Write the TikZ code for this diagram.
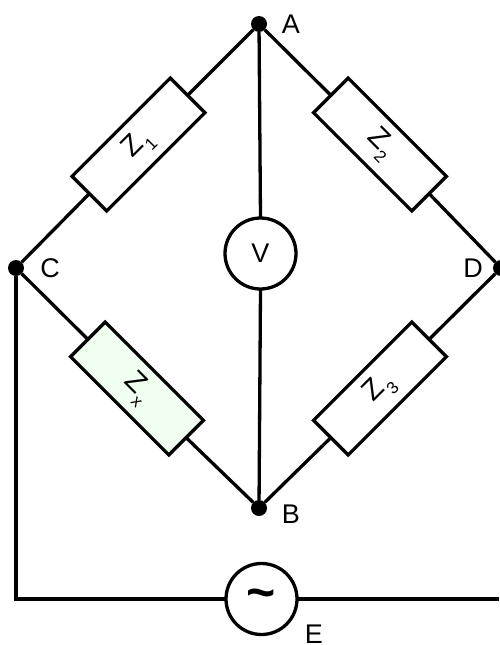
\documentclass[tikz,border=0pt]{standalone}
\usepackage{fontspec}
\setmainfont{Liberation Sans}
\usetikzlibrary{positioning}

\newcommand{\zlabel}[1]{\fontsize{29}{29}\selectfont Z\kern0.02em\raisebox{-0.32em}{\fontsize{17}{17}\selectfont #1}}

\tikzset{
  imped/.style={draw, line width=3.3pt, fill=white, minimum width=139pt, minimum height=49pt, inner sep=0pt, outer sep=0pt},
  dot/.style={circle, fill=black, minimum size=16pt, inner sep=0pt},
  meter/.style={circle, draw, line width=3.3pt, fill=white, minimum size=71pt, inner sep=0pt, outer sep=0pt},
  tag/.style={font=\fontsize{27}{27}\selectfont, inner sep=0pt},
  wire/.style={line width=3.3pt}
}

\begin{document}
\begin{tikzpicture}[x=1pt, y=-1pt]
	\useasboundingbox (0, 0) rectangle (499, 645);
	\node[dot] (A) at (259, 24) {};
	\node[dot] (B) at (259, 508) {};
	\node[dot] (C) at (16, 268) {};
	\node[dot] (D) at (501, 268) {};
	\node[imped, rotate=45] (Z1) at (138.5, 144.5) {\zlabel{1}};
	\node[imped, rotate=-45] (Z2) at (380, 144.5) {\zlabel{2}};
	\node[imped, rotate=45] (Z3) at (380, 388.5) {\zlabel{3}};
	\node[imped, rotate=-45, fill={rgb,255:red,240;green,255;blue,240}] (Zx) at (137, 388.5) {\zlabel{x}};
	\node[meter, font=\fontsize{27}{27}\selectfont] (V) at (260.5, 253.5) {V};
	\node[meter, font=\fontsize{50}{50}\selectfont\bfseries] (Eac) at (261.5, 599) {\textasciitilde};
	\coordinate (Ecorner) at (16, 599);
	\coordinate (Eend) at (499, 599);
	\node[tag] (Atag) at (291, 24) {A};
	\node[tag] (Btag) at (291, 514) {B};
	\node[tag] (Ctag) at (50, 268) {C};
	\node[tag] (Dtag) at (473, 268) {D};
	\node[tag] (Etag) at (314, 634) {E};
	\draw[wire] (A) -- (Z1.east);
	\draw[wire] (Z1.west) -- (C);
	\draw[wire] (A) -- (Z2.west);
	\draw[wire] (Z2.east) -- (D);
	\draw[wire] (C) -- (Zx.west);
	\draw[wire] (Zx.east) -- (B);
	\draw[wire] (B) -- (Z3.west);
	\draw[wire] (Z3.east) -- (D);
	\draw[wire] (A) -- (V.north);
	\draw[wire] (V.south) -- (B);
	\draw[wire] (C) -- (Ecorner) -- (Eac.west);
	\draw[wire] (Eac.east) -- (Eend);
\end{tikzpicture}
\end{document}
